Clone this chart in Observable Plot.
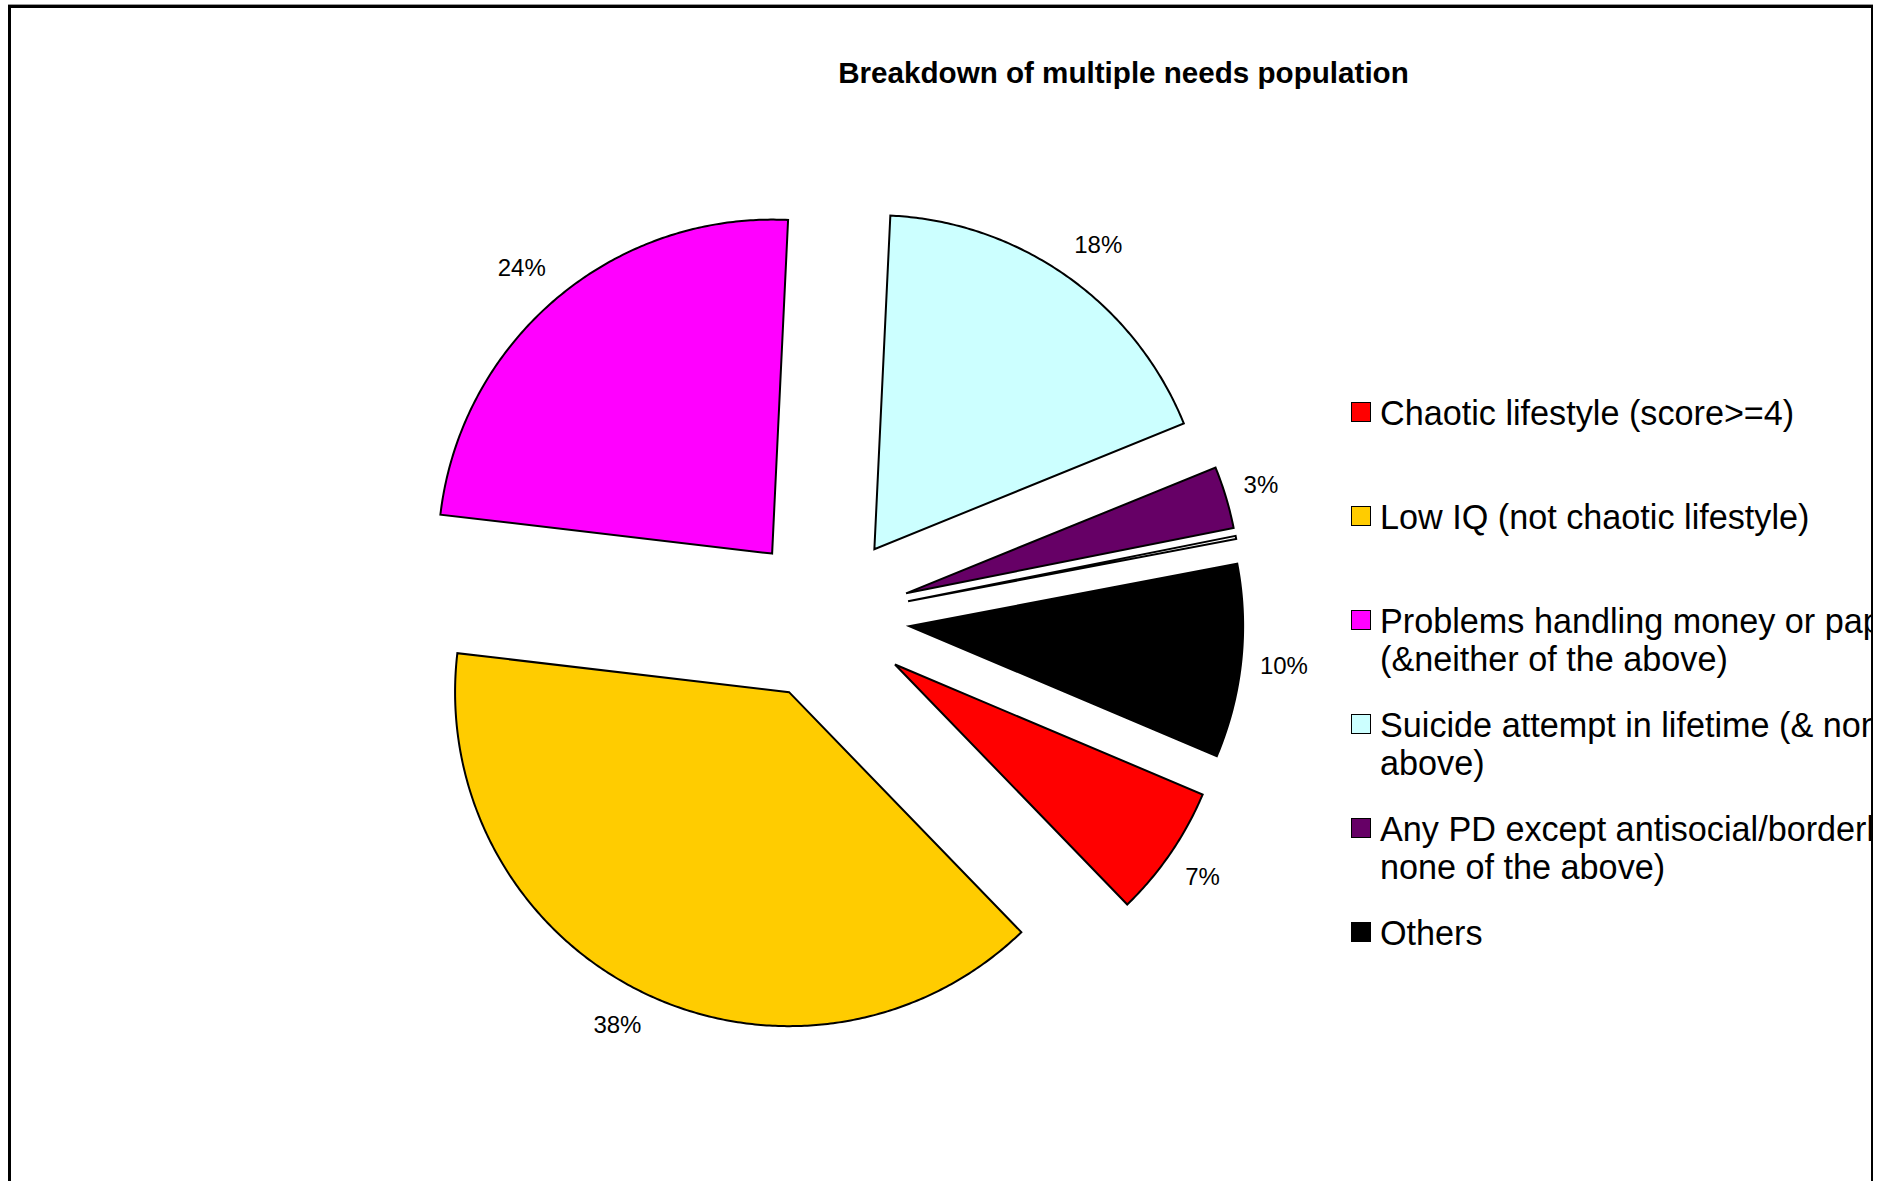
<!DOCTYPE html>
<html>
<head>
<meta charset="utf-8">
<script src="https://cdn.jsdelivr.net/npm/d3@7"></script>
<script src="https://cdn.jsdelivr.net/npm/@observablehq/plot@0.6"></script>
<style>
  html, body { margin: 0; padding: 0; background: #fff; width: 1877px; height: 1181px; overflow: hidden;
    font-family: "Liberation Sans", Arial, sans-serif; }
  #frame { position: absolute; left: 8px; top: 5px; width: 1860px; height: 1300px;
    border-left: 3px solid #000; border-top: 3px solid #000; border-right: 2px solid #000;
    box-shadow: 0 -1px 0 #9a9a9a; overflow: hidden; background: #fff; }
  #stage { position: absolute; left: -11px; top: -8px; width: 1877px; height: 1181px; }
  #chart { position: absolute; left: 0; top: 0; }
  #title { position: absolute; left: 1123.5px; top: 58px; transform: translateX(-50%);
    font-weight: bold; font-size: 29.6px; line-height: 29.6px; white-space: nowrap; color: #000; }
  #legend { position: absolute; left: 1351px; top: 393.75px; width: 700px; }
  .item { position: relative; height: 104px; }
  .swatch { position: absolute; left: 0; top: 8.5px; width: 18px; height: 18px; border: 1.5px solid #000; }
  .label { position: absolute; left: 29px; top: 0; font-size: 34.2px; line-height: 38.5px; white-space: pre; color: #000; }
</style>
</head>
<body>
<div id="frame"><div id="stage">
  <div id="title"></div>
  <div id="chart"></div>
  <div id="legend"></div>
</div></div>
<script>
// ---- data ----
const chartTitle = "Breakdown of multiple needs population";
const categories = [
  "Chaotic lifestyle (score>=4)",
  "Low IQ (not chaotic lifestyle)",
  "Problems handling money or paperwork (&neither of the above)",
  "Suicide attempt in lifetime (& none of the above)",
  "Any PD except antisocial/borderline (& none of the above)",
  "Unlabelled",
  "Others"
];
const shares = [6.4, 39.1, 23.9, 18.1, 3.0, 0.15, 9.35];
const valueLabels = ["7%", "38%", "24%", "18%", "3%", "", "10%"];
const colors = ["#FF0000", "#FFCC00", "#FF00FF", "#CCFFFF", "#660066", "#FFFFFF", "#000000"];
const legendLines = [
  ["Chaotic lifestyle (score>=4)"],
  ["Low IQ (not chaotic lifestyle)"],
  ["Problems handling money or paperwork", "(&neither of the above)"],
  ["Suicide attempt in lifetime (& none of the", "above)"],
  ["Any PD except antisocial/borderline (&", "none of the above)"],
  null,
  ["Others"]
];

// ---- layout constants ----
const W = 1877, H = 1181;
const cx = 825.6, cy = 616.8, R = 334;      // pie centre and radius in pixels
const firstSliceAngle = 112.9;              // degrees clockwise from 12 o'clock
const explode = 0.25;                       // fraction of radius
const labelDist = 356 / R;                  // distance of label anchor from slice apex
const labelFont = 24;

document.getElementById("title").textContent = chartTitle;

const start = firstSliceAngle * Math.PI / 180;
const arcs = d3.pie().sort(null).startAngle(start).endAngle(start + 2 * Math.PI)(shares);

const pts = [];
const labels = [];
arcs.forEach((p, i) => {
  const k = categories[i];
  const mid = (p.startAngle + p.endAngle) / 2;
  const ux = Math.sin(mid), uy = Math.cos(mid);   // y up
  const ox = explode * ux, oy = explode * uy;
  pts.push({k, x: ox, y: oy});
  const n = Math.max(2, Math.ceil((p.endAngle - p.startAngle) / (Math.PI / 360)));
  for (let j = 0; j <= n; j++) {
    const a = p.startAngle + (p.endAngle - p.startAngle) * j / n;
    pts.push({k, x: ox + Math.sin(a), y: oy + Math.cos(a)});
  }
  if (valueLabels[i]) {
    // outside-end placement: push label box away from the arc
    const halfW = valueLabels[i].length * 0.578 * labelFont / 2 / R;
    const halfH = 0.575 * labelFont / R;
    const fx = Math.min(1, 1.5 * Math.abs(ux)) * Math.sign(ux);
    const fy = Math.min(1, 1.5 * Math.abs(uy)) * Math.sign(uy);
    labels.push({t: valueLabels[i],
      x: ox + labelDist * ux + fx * halfW,
      y: oy + labelDist * uy + fy * halfH});
  }
});

const plot = Plot.plot({
  width: W, height: H, margin: 0,
  x: {domain: [-cx / R, (W - cx) / R], axis: null},
  y: {domain: [-(H - cy) / R, cy / R], axis: null},
  color: {domain: categories, range: colors},
  style: {background: "none", fontFamily: "'Liberation Sans', Arial, sans-serif", overflow: "visible"},
  marks: [
    Plot.line(pts, {x: "x", y: "y", z: "k", fill: "k", stroke: "#000", strokeWidth: 2,
      curve: "linear-closed", strokeLinejoin: "miter", strokeMiterlimit: 4}),
    Plot.text(labels, {x: "x", y: "y", text: "t", fontSize: labelFont, fill: "#000"})
  ]
});
document.getElementById("chart").appendChild(plot);

// ---- legend ----
const legend = document.getElementById("legend");
categories.forEach((c, i) => {
  if (!legendLines[i]) return;
  const item = document.createElement("div");
  item.className = "item";
  const sw = document.createElement("div");
  sw.className = "swatch";
  sw.style.background = colors[i];
  const lb = document.createElement("div");
  lb.className = "label";
  lb.textContent = legendLines[i].join("\n");
  item.appendChild(sw); item.appendChild(lb);
  legend.appendChild(item);
});
</script>
</body>
</html>
